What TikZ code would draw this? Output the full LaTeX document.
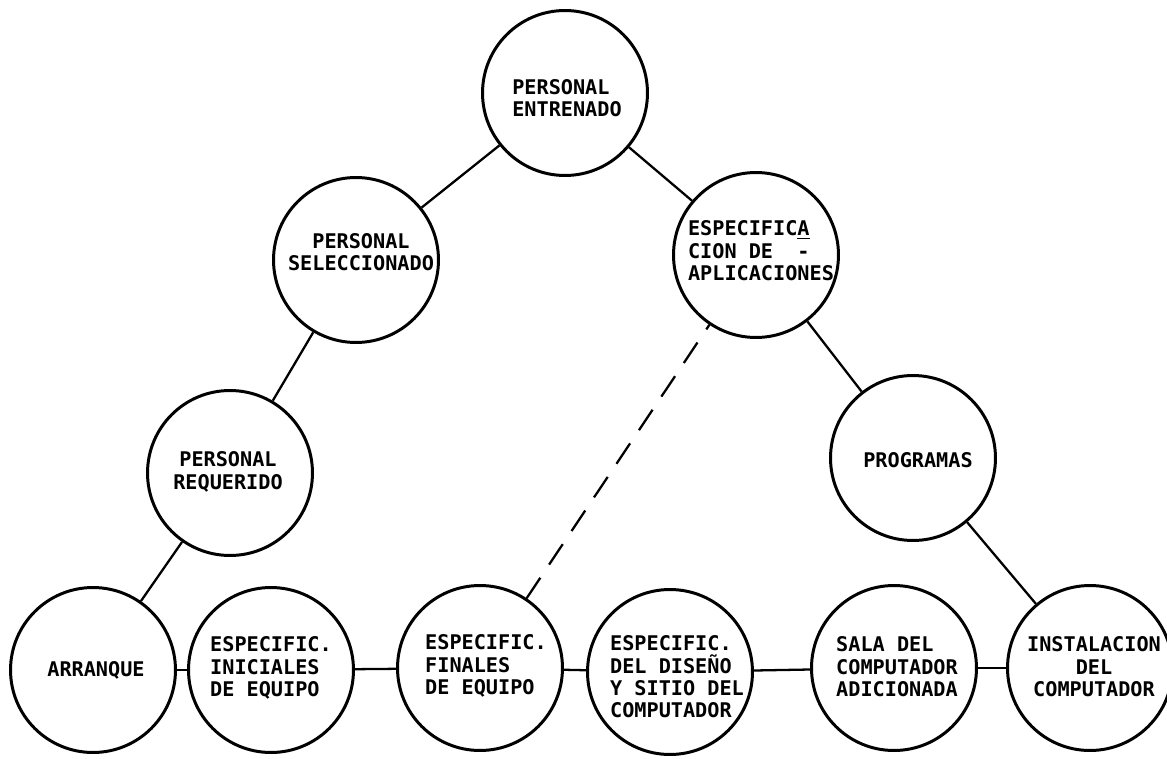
\documentclass[tikz,border=0pt]{standalone}
\usepackage{fontspec}
\newfontfamily\lettering{DejaVu Sans Mono}
\begin{document}
\begin{tikzpicture}[x=0.02cm,y=-0.02cm,
  bub/.style={circle,draw,line width=1.7pt,minimum size=3.3cm,inner sep=0pt},
  txt/.style={inner sep=0pt,font=\lettering\bfseries\fontsize{11.5}{12.75}\selectfont},
  link/.style={line width=1.3pt},
  dlink/.style={line width=1.3pt,dash pattern=on 14pt off 9pt}]
\useasboundingbox (0,0) rectangle (1167,758);

% circles
\node[bub] (ent) at (565,93) {};
\node[bub] (sel) at (356,260) {};
\node[bub] (apl) at (756,255) {};
\node[bub] (req) at (230,473) {};
\node[bub] (prg) at (913,458) {};
\node[bub] (arr) at (93,670) {};
\node[bub] (ini) at (271,670) {};
\node[bub] (fin) at (480,668) {};
\node[bub] (dis) at (670,672) {};
\node[bub] (sal) at (894,668) {};
\node[bub] (ins) at (1090,668) {};

% labels
\node[txt,align=left] (ent-t) at (567,98) {PERSONAL\\ENTRENADO};
\node[txt,align=center] (sel-t) at (361,252) {PERSONAL\\SELECCIONADO};
\node[txt,align=left] (apl-t) at (761,251) {ESPECIFIC\underline{A}\\CION DE\ \ -\\APLICACIONES};
\node[txt,align=center] (req-t) at (228,472) {PERSONAL\\REQUERIDO};
\node[txt] (prg-t) at (918,460) {PROGRAMAS};
\node[txt] (arr-t) at (96,670) {ARRANQUE};
\node[txt,align=left] (ini-t) at (271,668) {ESPECIFIC.\\INICIALES\\DE EQUIPO};
\node[txt,align=left] (fin-t) at (486,666) {ESPECIFIC.\\FINALES\\DE EQUIPO};
\node[txt,align=left] (dis-t) at (677,677) {ESPECIFIC.\\DEL DISEÑO\\Y SITIO DEL\\COMPUTADOR};
\node[txt,align=left] (sal-t) at (897,667) {SALA DEL\\COMPUTADOR\\ADICIONADA};
\node[txt,align=center] (ins-t) at (1094,667) {INSTALACION\\DEL\\COMPUTADOR};

% connectors
\draw[link] (ent) -- (sel);
\draw[link] (ent) -- (apl);
\draw[link] (sel) -- (req);
\draw[link] (req) -- (arr);
\draw[link] (apl) -- (prg);
\draw[link] (prg) -- (ins);
\draw[link] (arr) -- (ini);
\draw[link] (ini) -- (fin);
\draw[link] (fin) -- (dis);
\draw[link] (dis) -- (sal);
\draw[link] (sal) -- (ins);
\draw[dlink] (fin) -- (apl);
\end{tikzpicture}
\end{document}
